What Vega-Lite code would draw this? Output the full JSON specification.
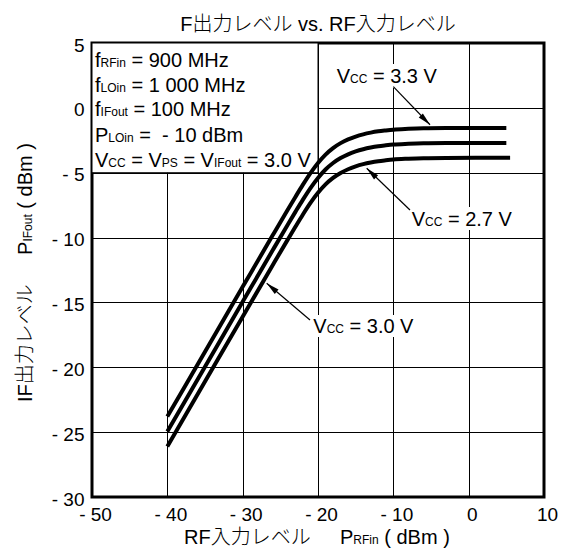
{
  "$schema": "https://vega.github.io/schema/vega-lite/v6.json",
  "width": 452,
  "height": 454,
  "autosize": {"type": "none"},
  "padding": {"left": 92, "top": 43, "right": 17, "bottom": 54},
  "background": "white",
  "title": {"text": "F出力レベル vs. RF入力レベル", "fontSize": 20, "font": "Liberation Sans, Noto Sans CJK JP", "fontWeight": 300, "color": "black", "offset": 1, "anchor": "middle", "frame": "group"},
  "config": {
    "view": {"stroke": "black", "strokeWidth": 3},
    "axis": {"gridColor": "black", "gridOpacity": 1, "gridWidth": 1, "domain": false, "ticks": false, "tickSize": 0, "labelFont": "Liberation Sans", "labelFontSize": 19, "labelColor": "black", "labelFlush": false, "labelOverlap": false, "labelPadding": 8}
  },
  "datasets": {
    "curves": [
      {"v": "3.3", "x": -40, "y": -23.8}, {"v": "3.3", "x": -35, "y": -18.8}, {"v": "3.3", "x": -30, "y": -13.8}, {"v": "3.3", "x": -26, "y": -9.81}, {"v": "3.3", "x": -24, "y": -7.84}, {"v": "3.3", "x": -23, "y": -6.87}, {"v": "3.3", "x": -22, "y": -5.92}, {"v": "3.3", "x": -21, "y": -5.03}, {"v": "3.3", "x": -20, "y": -4.25}, {"v": "3.3", "x": -19, "y": -3.6}, {"v": "3.3", "x": -18, "y": -3.1}, {"v": "3.3", "x": -17, "y": -2.72}, {"v": "3.3", "x": -16, "y": -2.43}, {"v": "3.3", "x": -15, "y": -2.21}, {"v": "3.3", "x": -14, "y": -2.04}, {"v": "3.3", "x": -13, "y": -1.91}, {"v": "3.3", "x": -12, "y": -1.81}, {"v": "3.3", "x": -11, "y": -1.74}, {"v": "3.3", "x": -10, "y": -1.68}, {"v": "3.3", "x": -8, "y": -1.62}, {"v": "3.3", "x": -6, "y": -1.58}, {"v": "3.3", "x": -3, "y": -1.56}, {"v": "3.3", "x": 5, "y": -1.55},
      {"v": "3.0", "x": -40, "y": -24.95}, {"v": "3.0", "x": -35, "y": -19.95}, {"v": "3.0", "x": -30, "y": -14.95}, {"v": "3.0", "x": -26, "y": -10.96}, {"v": "3.0", "x": -24, "y": -8.99}, {"v": "3.0", "x": -23, "y": -8.02}, {"v": "3.0", "x": -22, "y": -7.07}, {"v": "3.0", "x": -21, "y": -6.18}, {"v": "3.0", "x": -20, "y": -5.4}, {"v": "3.0", "x": -19, "y": -4.75}, {"v": "3.0", "x": -18, "y": -4.25}, {"v": "3.0", "x": -17, "y": -3.87}, {"v": "3.0", "x": -16, "y": -3.58}, {"v": "3.0", "x": -15, "y": -3.36}, {"v": "3.0", "x": -14, "y": -3.19}, {"v": "3.0", "x": -13, "y": -3.06}, {"v": "3.0", "x": -12, "y": -2.96}, {"v": "3.0", "x": -11, "y": -2.89}, {"v": "3.0", "x": -10, "y": -2.83}, {"v": "3.0", "x": -8, "y": -2.77}, {"v": "3.0", "x": -6, "y": -2.73}, {"v": "3.0", "x": -3, "y": -2.71}, {"v": "3.0", "x": 5, "y": -2.7},
      {"v": "2.7", "x": -40, "y": -26.1}, {"v": "2.7", "x": -35, "y": -21.1}, {"v": "2.7", "x": -30, "y": -16.1}, {"v": "2.7", "x": -26, "y": -12.11}, {"v": "2.7", "x": -24, "y": -10.14}, {"v": "2.7", "x": -23, "y": -9.17}, {"v": "2.7", "x": -22, "y": -8.22}, {"v": "2.7", "x": -21, "y": -7.33}, {"v": "2.7", "x": -20, "y": -6.55}, {"v": "2.7", "x": -19, "y": -5.9}, {"v": "2.7", "x": -18, "y": -5.4}, {"v": "2.7", "x": -17, "y": -5.02}, {"v": "2.7", "x": -16, "y": -4.73}, {"v": "2.7", "x": -15, "y": -4.51}, {"v": "2.7", "x": -14, "y": -4.34}, {"v": "2.7", "x": -13, "y": -4.21}, {"v": "2.7", "x": -12, "y": -4.11}, {"v": "2.7", "x": -11, "y": -4.04}, {"v": "2.7", "x": -10, "y": -3.98}, {"v": "2.7", "x": -8, "y": -3.92}, {"v": "2.7", "x": -6, "y": -3.88}, {"v": "2.7", "x": -3, "y": -3.86}, {"v": "2.7", "x": 5.5, "y": -3.85}
    ],
    "box": [{"x": -50, "x2": -20, "y": 5, "y2": -5}],
    "labelbg": [
      {"x": -17.88, "x2": -3.67, "y": 3.381, "y2": 1.531},
      {"x": -7.92, "x2": 6.42, "y": -7.644, "y2": -9.417},
      {"x": -20.93, "x2": -7.39, "y": -15.97, "y2": -17.666}
    ],
    "arrows": [
      {"id": "3.3", "x": -10.0, "y": 1.631, "x2": -5.132, "y2": -1.3},
      {"id": "2.7", "x": -7.79, "y": -7.875, "x2": -13.535, "y2": -4.66},
      {"id": "3.0", "x": -21.06, "y": -16.355, "x2": -26.81, "y2": -13.526}
    ],
    "tips": [
      {"id": "3.3", "x": -5.132, "y": -1.3},
      {"id": "2.7", "x": -13.535, "y": -4.66},
      {"id": "3.0", "x": -26.81, "y": -13.526}
    ],
    "txt": [
      {"t": "f", "x": -49.6, "y": 3.173},
      {"t": "= 900 MHz", "x": -44.761, "y": 3.173},
      {"t": "f", "x": -49.6, "y": 1.261},
      {"t": "= 1 000 MHz", "x": -44.76, "y": 1.261},
      {"t": "f", "x": -49.6, "y": -0.651},
      {"t": "= 100 MHz", "x": -44.494, "y": -0.651},
      {"t": "P", "x": -49.6, "y": -2.609},
      {"t": "=\u00a0 - 10 dBm", "x": -43.727, "y": -2.609},
      {"t": "V", "x": -49.6, "y": -4.56},
      {"t": "= V", "x": -44.791, "y": -4.56},
      {"t": "= V", "x": -37.869, "y": -4.56},
      {"t": "= 3.0 V", "x": -29.442, "y": -4.56},
      {"t": "V", "x": -17.52, "y": 1.916},
      {"t": "= 3.3 V", "x": -12.711, "y": 1.916},
      {"t": "V", "x": -7.56, "y": -9.085},
      {"t": "= 2.7 V", "x": -2.751, "y": -9.085},
      {"t": "V", "x": -20.624, "y": -17.357},
      {"t": "= 3.0 V", "x": -15.815, "y": -17.357},
      {"t": "P", "x": -17.08, "y": -33.625},
      {"t": "( dBm )", "x": -11.204, "y": -33.625}
    ],
    "cjk": [
      {"t": "RF入力レベル", "x": -37.787, "y": -33.625}
    ],
    "sub": [
      {"t": "RFin", "x": -48.862, "y": 3.173},
      {"t": "LOin", "x": -48.862, "y": 1.261},
      {"t": "IFout", "x": -48.862, "y": -0.651},
      {"t": "LOin", "x": -47.829, "y": -2.609},
      {"t": "CC", "x": -47.829, "y": -4.56},
      {"t": "PS", "x": -40.732, "y": -4.56},
      {"t": "IFout", "x": -33.81, "y": -4.56},
      {"t": "CC", "x": -15.749, "y": 1.916},
      {"t": "CC", "x": -5.789, "y": -9.085},
      {"t": "CC", "x": -18.853, "y": -17.357},
      {"t": "RFin", "x": -15.314, "y": -33.625}
    ],
    "ycjk": [
      {"t": "IF出力レベル", "x": -58.03, "y": -22.677}
    ],
    "ytxt": [
      {"t": "P", "x": -58.03, "y": -11.336},
      {"t": "( dBm )", "x": -58.03, "y": -7.77}
    ],
    "ysub": [
      {"t": "IFout", "x": -58.03, "y": -10.311}
    ]
  },
  "encoding": {
    "x": {"field": "x", "type": "quantitative", "scale": {"domain": [-50, 10], "nice": false, "zero": false},
      "axis": {"title": null, "values": [-50, -40, -30, -20, -10, 0, 10], "labelOffset": 3, "labelExpr": "datum.value < 0 ? '- ' + abs(datum.value) : '' + datum.value"}},
    "y": {"field": "y", "type": "quantitative", "scale": {"domain": [-30, 5], "nice": false, "zero": false},
      "axis": {"title": null, "values": [-30, -25, -20, -15, -10, -5, 0, 5], "labelOffset": 2, "labelExpr": "datum.value < 0 ? '- ' + abs(datum.value) : '' + datum.value"}}
  },
  "layer": [
    {"data": {"name": "box"}, "mark": {"type": "rect", "fill": "white", "stroke": "black", "strokeWidth": 1},
      "encoding": {"x2": {"field": "x2"}, "y2": {"field": "y2"}}},
    {"data": {"name": "labelbg"}, "mark": {"type": "rect", "fill": "white", "strokeWidth": 0},
      "encoding": {"x2": {"field": "x2"}, "y2": {"field": "y2"}}},
    {"data": {"name": "curves"}, "mark": {"type": "line", "color": "black", "strokeWidth": 4, "interpolate": "monotone", "strokeCap": "butt"},
      "encoding": {"detail": {"field": "v"}}},
    {"data": {"name": "arrows"}, "mark": {"type": "rule", "color": "black", "strokeWidth": 1.2},
      "encoding": {"x2": {"field": "x2"}, "y2": {"field": "y2"}}},
    {"data": {"name": "tips"}, "transform": [{"filter": "datum.id == '3.3'"}],
      "mark": {"type": "point", "shape": "M0,0L0.45,2L-0.45,2Z", "filled": true, "color": "black", "opacity": 1, "size": 169, "angle": 135}},
    {"data": {"name": "tips"}, "transform": [{"filter": "datum.id == '2.7'"}],
      "mark": {"type": "point", "shape": "M0,0L0.45,2L-0.45,2Z", "filled": true, "color": "black", "opacity": 1, "size": 169, "angle": 314}},
    {"data": {"name": "tips"}, "transform": [{"filter": "datum.id == '3.0'"}],
      "mark": {"type": "point", "shape": "M0,0L0.45,2L-0.45,2Z", "filled": true, "color": "black", "opacity": 1, "size": 169, "angle": 310}},
    {"data": {"name": "txt"}, "mark": {"type": "text", "align": "left", "baseline": "alphabetic", "fontSize": 20, "font": "Liberation Sans", "color": "black"},
      "encoding": {"text": {"field": "t"}}},
    {"data": {"name": "cjk"}, "mark": {"type": "text", "align": "left", "baseline": "alphabetic", "fontSize": 20, "fontWeight": 300, "font": "Liberation Sans, Noto Sans CJK JP", "color": "black"},
      "encoding": {"text": {"field": "t"}}},
    {"data": {"name": "sub"}, "mark": {"type": "text", "align": "left", "baseline": "alphabetic", "fontSize": 12, "font": "Liberation Sans", "color": "black"},
      "encoding": {"text": {"field": "t"}}},
    {"data": {"name": "ycjk"}, "mark": {"type": "text", "align": "left", "baseline": "alphabetic", "angle": 270, "fontSize": 20, "fontWeight": 300, "font": "Liberation Sans, Noto Sans CJK JP", "color": "black"},
      "encoding": {"text": {"field": "t"}}},
    {"data": {"name": "ytxt"}, "mark": {"type": "text", "align": "left", "baseline": "alphabetic", "angle": 270, "fontSize": 20, "font": "Liberation Sans", "color": "black"},
      "encoding": {"text": {"field": "t"}}},
    {"data": {"name": "ysub"}, "mark": {"type": "text", "align": "left", "baseline": "alphabetic", "angle": 270, "fontSize": 12, "font": "Liberation Sans", "color": "black"},
      "encoding": {"text": {"field": "t"}}}
  ]
}
